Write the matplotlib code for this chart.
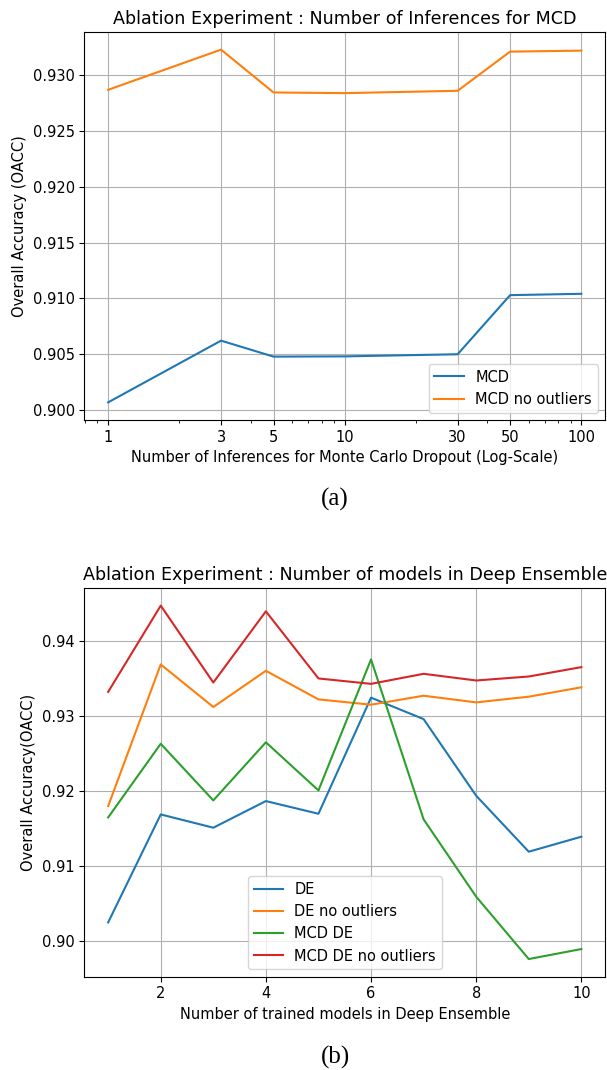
import numpy as np
import matplotlib
matplotlib.use("Agg")
import matplotlib.pyplot as plt
from matplotlib.ticker import ScalarFormatter

plt.rcParams["font.size"] = 10.5

# --- (a) number of MC dropout inferences ---
n_inferences = [1, 3, 5, 10, 30, 50, 100]
mcd = [0.90069, 0.90622, 0.90479, 0.90481, 0.90500, 0.91030, 0.91042]
mcd_no_outliers = [0.92871, 0.93231, 0.92847, 0.92841, 0.92862, 0.93213, 0.93222]

# --- (b) number of models in the deep ensemble ---
n_models = [1, 2, 3, 4, 5, 6, 7, 8, 9, 10]
de = [0.90244, 0.91684, 0.91507, 0.91862, 0.91693, 0.93241, 0.92955, 0.91933, 0.91187, 0.91387]
de_no_outliers = [0.91795, 0.93684, 0.93116, 0.93599, 0.93218, 0.93147, 0.93267, 0.93178, 0.93254, 0.93379]
mcd_de = [0.91644, 0.92626, 0.91871, 0.92646, 0.92004, 0.93751, 0.91618, 0.90587, 0.89756, 0.89889]
mcd_de_no_outliers = [0.93318, 0.94468, 0.93443, 0.94392, 0.93497, 0.93425, 0.93559, 0.93470, 0.93523, 0.93648]

fig = plt.figure(figsize=(6.07, 10.70), dpi=100)

ax1 = fig.add_axes([0.1392, 0.6075, 0.8575, 0.3626])
ax1.plot(n_inferences, mcd, label="MCD")
ax1.plot(n_inferences, mcd_no_outliers, label="MCD no outliers")
ax1.set_xscale("log")
ax1.set_xticks(n_inferences)
ax1.xaxis.set_major_formatter(ScalarFormatter())
ax1.set_xlabel("Number of Inferences for Monte Carlo Dropout (Log-Scale)")
ax1.set_ylabel("Overall Accuracy (OACC)")
ax1.set_title("Ablation Experiment : Number of Inferences for MCD")
ax1.grid(True)
ax1.legend(loc="lower right")

ax2 = fig.add_axes([0.1392, 0.0872, 0.8575, 0.3633])
ax2.plot(n_models, de, label="DE")
ax2.plot(n_models, de_no_outliers, label="DE no outliers")
ax2.plot(n_models, mcd_de, label="MCD DE")
ax2.plot(n_models, mcd_de_no_outliers, label="MCD DE no outliers")
ax2.set_xlabel("Number of trained models in Deep Ensemble")
ax2.set_ylabel("Overall Accuracy(OACC)")
ax2.set_title("Ablation Experiment : Number of models in Deep Ensemble")
ax2.grid(True)
ax2.legend(loc="lower center")

# figure captions, serif like the paper
fig.text(0.552, 1 - 499 / 1070, "(a)", ha="center", va="center",
         family="Liberation Serif", fontsize=18)
fig.text(0.552, 1 - 1057 / 1070, "(b)", ha="center", va="center",
         family="Liberation Serif", fontsize=18)

fig.savefig("out.png", dpi=100)
